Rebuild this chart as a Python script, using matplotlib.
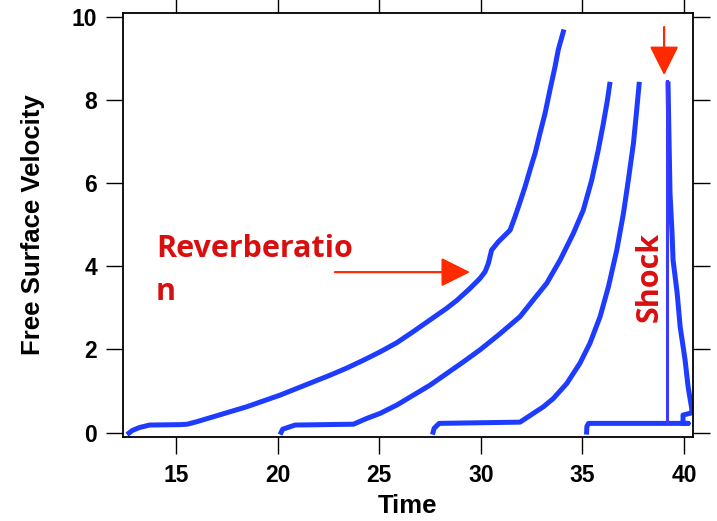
import numpy as np
import matplotlib.pyplot as plt

# Free surface velocity traces (time, velocity)
t1 = [12.59, 12.85, 13.2, 13.7, 15.2, 15.55, 16.02, 16.84, 17.66, 18.48, 19.3,
      20.12, 20.94, 21.76, 22.58, 23.4, 24.22, 25.04, 25.86, 26.68, 27.5,
      28.32, 28.82, 29.47, 29.96, 30.21, 30.37, 30.53, 30.86, 31.44, 31.68,
      31.93, 32.18, 32.42, 32.67, 32.91, 33.16, 33.4, 33.65, 33.81, 34.09]
v1 = [-0.05, 0.05, 0.12, 0.18, 0.19, 0.2, 0.26, 0.38, 0.5, 0.62, 0.76,
      0.9, 1.06, 1.22, 1.38, 1.55, 1.74, 1.94, 2.16, 2.43, 2.71,
      2.99, 3.18, 3.47, 3.71, 3.87, 4.07, 4.39, 4.59, 4.87, 5.19,
      5.55, 5.92, 6.32, 6.72, 7.2, 7.68, 8.24, 8.8, 9.21, 9.7]

t2 = [20.12, 20.25, 20.86, 23.73, 24.39, 25.04, 25.86, 26.68, 27.5, 28.32,
      29.14, 29.96, 30.9, 31.93, 32.58, 33.24, 33.9, 34.55, 35.04, 35.46,
      35.78, 36.03, 36.23, 36.36]
v2 = [-0.05, 0.08, 0.18, 0.2, 0.34, 0.46, 0.66, 0.9, 1.14, 1.42,
      1.7, 1.99, 2.36, 2.79, 3.19, 3.59, 4.15, 4.79, 5.35, 6.08,
      6.8, 7.44, 8.0, 8.44]

t3 = [27.62, 27.7, 27.95, 31.93, 32.58, 33.08, 33.57, 34.23, 34.88, 35.37,
      35.87, 36.28, 36.69, 37.02, 37.26, 37.51, 37.67, 37.8]
v3 = [-0.05, 0.1, 0.22, 0.25, 0.46, 0.62, 0.82, 1.18, 1.67, 2.15,
      2.79, 3.51, 4.39, 5.28, 6.08, 6.96, 7.76, 8.44]

t4 = [35.2, 35.22, 35.3, 40.2, 39.95, 39.95, 40.35, 40.39, 40.2, 40.05, 39.81,
      39.66, 39.46, 39.41, 39.31, 39.25, 39.21]
v4 = [-0.05, 0.15, 0.22, 0.22, 0.22, 0.42, 0.47, 0.54, 1.1, 1.75, 2.54,
      3.36, 4.15, 4.8, 5.76, 7.35, 8.45]

shock_t = 39.15
shock_v = [0.22, 8.45]

blue = "#1e3cff"
red_text = "#d90f0f"
red_arrow = "#ff2a00"

fig = plt.figure(figsize=(7.17, 5.21), dpi=100)
ax = fig.add_axes([0.1715, 0.1612, 0.795, 0.8138])

for t, v in [(t1, v1), (t2, v2), (t3, v3), (t4, v4)]:
    ax.plot(t, v, color=blue, linewidth=3.6, solid_joinstyle="round",
            solid_capstyle="butt")
ax.plot([shock_t, shock_t], shock_v, color="#3a3aff", linewidth=2.2)

ax.set_xlim(12.39, 40.44)
ax.set_ylim(-0.108, 10.096)
ax.set_xticks([15, 20, 25, 30, 35, 40])
ax.set_yticks([0, 2, 4, 6, 8, 10])

tick_font = "Liberation Sans"
ax.tick_params(direction="out", length=12.2, width=1.0, top=True, right=True,
               labelsize=16.5)
ax.tick_params(axis="y", pad=6.5)
ax.tick_params(axis="x", pad=7.5)
for lab in ax.get_xticklabels() + ax.get_yticklabels():
    lab.set_fontfamily(tick_font)
    lab.set_fontweight("bold")
for s in ax.spines.values():
    s.set_linewidth(1.3)

ax.set_xlabel("Time", fontsize=18.5, fontweight="bold", fontfamily=tick_font)
ax.set_ylabel("Free Surface Velocity", fontsize=18.5, fontweight="bold",
              fontfamily=tick_font)
ax.xaxis.set_label_coords(0.5, -0.135)
ax.yaxis.set_label_coords(-0.137, 0.5)

# annotations
ax.text(14.02, 3.19, "Reverberatio\nn", color=red_text, fontsize=22,
        fontweight="bold", fontfamily="Open Sans", ha="left", va="baseline",
        linespacing=1.55)
ax.annotate("", xy=(29.47, 3.86), xytext=(22.82, 3.86),
            arrowprops=dict(arrowstyle="-|>,head_length=1.0,head_width=0.5",
                            mutation_scale=18, color=red_arrow, lw=1.6,
                            shrinkA=0, shrinkB=0))
ax.annotate("", xy=(39.02, 8.6), xytext=(39.02, 9.76),
            arrowprops=dict(arrowstyle="-|>,head_length=1.0,head_width=0.5",
                            mutation_scale=18, color=red_arrow, lw=1.6,
                            shrinkA=0, shrinkB=0))
ax.text(38.33, 3.74, "Shock", color=red_text, fontsize=22, fontweight="bold",
        fontfamily="Open Sans", rotation=90, ha="center", va="center")

fig.savefig("out.png", dpi=100)
